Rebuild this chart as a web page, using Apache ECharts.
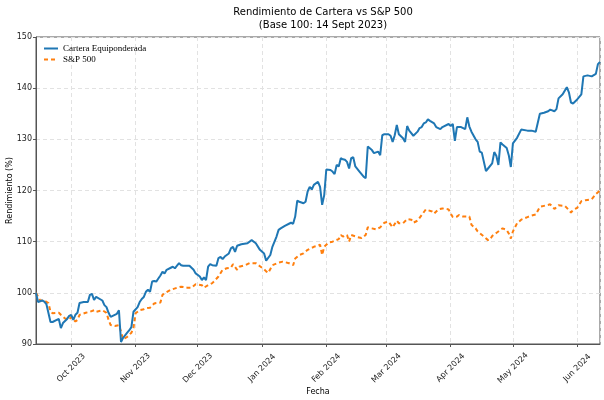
<!DOCTYPE html>
<html><head><meta charset="utf-8">
<script src="https://cdn.jsdelivr.net/npm/echarts@6/dist/echarts.min.js"></script>
<style>html,body{margin:0;padding:0;background:#fff}#c{width:604px;height:400px}</style>
</head><body><div id="c"></div>
<script>
const titleText = 'Rendimiento de Cartera vs S&P 500\n(Base 100: 14 Sept 2023)';
const seriesNames = ['Cartera Equiponderada', 'S&P 500'];
const monthNames = ['Jan','Feb','Mar','Apr','May','Jun','Jul','Aug','Sep','Oct','Nov','Dec'];
const dateMin = '2023-09-14';
const dateMax = '2024-06-12';
const yMin = 90, yMax = 150, yStep = 10;

const carteraDates = ['2023-09-14','2023-09-15','2023-09-17','2023-09-18','2023-09-19','2023-09-21','2023-09-22','2023-09-24','2023-09-25','2023-09-26','2023-09-27','2023-09-29','2023-09-30',
'2023-10-01','2023-10-02','2023-10-03','2023-10-04','2023-10-05','2023-10-07','2023-10-09','2023-10-10','2023-10-11','2023-10-12','2023-10-13','2023-10-16','2023-10-17','2023-10-18','2023-10-19','2023-10-20','2023-10-22','2023-10-23','2023-10-24','2023-10-25','2023-10-26','2023-10-28','2023-10-29','2023-10-30','2023-10-31',
'2023-11-02','2023-11-03','2023-11-04','2023-11-05','2023-11-06','2023-11-07','2023-11-08','2023-11-09','2023-11-10','2023-11-11','2023-11-12','2023-11-13','2023-11-14','2023-11-15','2023-11-16','2023-11-18','2023-11-19','2023-11-20','2023-11-21','2023-11-22','2023-11-23','2023-11-24','2023-11-25','2023-11-27','2023-11-29','2023-11-30',
'2023-12-02','2023-12-03','2023-12-04','2023-12-05','2023-12-06','2023-12-07','2023-12-08','2023-12-10','2023-12-11','2023-12-12','2023-12-13','2023-12-14','2023-12-16','2023-12-17','2023-12-18','2023-12-19','2023-12-20','2023-12-22','2023-12-25','2023-12-27','2023-12-29','2023-12-31',
'2024-01-02','2024-01-03','2024-01-05','2024-01-06','2024-01-08','2024-01-09','2024-01-10','2024-01-12','2024-01-14','2024-01-15','2024-01-16','2024-01-17','2024-01-18','2024-01-19','2024-01-21','2024-01-22','2024-01-23','2024-01-24','2024-01-25','2024-01-26','2024-01-28','2024-01-29','2024-01-30','2024-01-31',
'2024-02-01','2024-02-03','2024-02-04','2024-02-05','2024-02-06','2024-02-07','2024-02-08','2024-02-09','2024-02-10','2024-02-11','2024-02-12','2024-02-13','2024-02-14','2024-02-15','2024-02-17','2024-02-19','2024-02-20','2024-02-21','2024-02-23','2024-02-24','2024-02-26','2024-02-27','2024-02-28','2024-02-29',
'2024-03-02','2024-03-03','2024-03-04','2024-03-05','2024-03-06','2024-03-07','2024-03-09','2024-03-10','2024-03-11','2024-03-12','2024-03-14','2024-03-16','2024-03-17','2024-03-18','2024-03-19','2024-03-20','2024-03-21','2024-03-22','2024-03-24','2024-03-25','2024-03-27','2024-03-28','2024-03-31',
'2024-04-01','2024-04-02','2024-04-03','2024-04-04','2024-04-06','2024-04-08','2024-04-09','2024-04-10','2024-04-11','2024-04-13','2024-04-14','2024-04-15','2024-04-16','2024-04-18','2024-04-19','2024-04-21','2024-04-22','2024-04-23','2024-04-24','2024-04-25','2024-04-26','2024-04-28','2024-04-29','2024-04-30',
'2024-05-01','2024-05-03','2024-05-05','2024-05-08','2024-05-10','2024-05-12','2024-05-14','2024-05-16','2024-05-18','2024-05-19','2024-05-21','2024-05-22','2024-05-23','2024-05-25','2024-05-27','2024-05-28','2024-05-29','2024-05-30',
'2024-06-01','2024-06-03','2024-06-04','2024-06-06','2024-06-08','2024-06-10','2024-06-11','2024-06-12'];
const carteraValues = [100.0,98.2,98.5,98.3,97.8,94.3,94.3,94.7,94.9,93.1,94.1,94.9,95.5,
95.7,94.7,95.7,96.1,98.0,98.2,98.2,99.6,99.8,98.6,99.2,98.5,97.6,97.2,96.1,95.3,95.7,95.9,96.6,90.4,91.2,92.2,92.7,93.3,96.3,
97.2,98.2,98.8,99.2,100.2,100.6,100.2,102.2,102.3,102.2,102.8,103.4,104.1,103.8,104.5,104.9,105.1,104.8,105.3,105.8,105.4,105.3,105.3,105.3,104.5,103.8,
103.2,102.5,103.0,102.5,105.1,105.6,105.4,105.3,106.8,107.0,106.6,107.1,107.7,108.7,109.0,108.0,109.2,109.5,109.7,110.3,109.7,108.4,
107.7,106.3,107.4,109.0,111.0,112.3,112.6,113.1,113.5,113.7,113.5,114.9,118.0,117.8,117.5,117.8,119.8,120.7,120.2,121.1,121.7,120.7,117.2,119.1,
124.1,124.0,123.7,123.2,125.0,124.7,126.3,126.1,126.0,125.6,124.3,126.3,126.5,124.7,123.7,122.7,122.4,128.6,127.9,127.3,127.6,126.9,130.8,131.0,
131.0,130.7,129.5,130.8,132.8,131.0,130.2,129.5,132.6,131.7,130.7,131.5,132.2,132.4,133.1,133.3,133.9,133.6,133.1,132.4,132.0,132.4,133.0,
132.6,133.0,129.7,132.4,132.4,132.0,134.3,132.5,131.5,130.0,129.5,127.6,127.4,123.8,124.3,125.3,127.5,126.8,125.0,129.4,129.0,128.3,126.9,124.6,
129.2,130.3,131.9,131.7,131.7,131.5,135.0,135.2,135.5,135.8,135.5,135.9,138.0,138.8,140.2,139.2,137.2,137.0,
137.8,138.8,142.3,142.5,142.3,142.8,144.7,145.1];

const spDates = ['2023-09-14','2023-09-16','2023-09-18','2023-09-20','2023-09-21','2023-09-22','2023-09-25','2023-09-26','2023-09-28','2023-09-30',
'2023-10-01','2023-10-03','2023-10-04','2023-10-05','2023-10-08','2023-10-10','2023-10-12','2023-10-13','2023-10-15','2023-10-16','2023-10-18','2023-10-19','2023-10-20','2023-10-22','2023-10-24','2023-10-25','2023-10-26','2023-10-28','2023-10-30','2023-10-31',
'2023-11-01','2023-11-03','2023-11-05','2023-11-06','2023-11-08','2023-11-10','2023-11-11','2023-11-13','2023-11-14','2023-11-15','2023-11-18','2023-11-21','2023-11-23','2023-11-26','2023-11-28','2023-11-30',
'2023-12-03','2023-12-04','2023-12-06','2023-12-08','2023-12-09','2023-12-11','2023-12-13','2023-12-15','2023-12-17','2023-12-18','2023-12-20','2023-12-21','2023-12-24','2023-12-26','2023-12-29','2023-12-31',
'2024-01-02','2024-01-03','2024-01-04','2024-01-06','2024-01-09','2024-01-11','2024-01-14','2024-01-16','2024-01-17','2024-01-19','2024-01-21','2024-01-23','2024-01-26','2024-01-28','2024-01-29','2024-01-30','2024-01-31',
'2024-02-02','2024-02-04','2024-02-07','2024-02-08','2024-02-09','2024-02-11','2024-02-12','2024-02-13','2024-02-16','2024-02-18','2024-02-20','2024-02-21','2024-02-23','2024-02-25','2024-02-27','2024-02-29',
'2024-03-02','2024-03-04','2024-03-06','2024-03-07','2024-03-09','2024-03-11','2024-03-13','2024-03-14','2024-03-16','2024-03-18','2024-03-20','2024-03-23','2024-03-24','2024-03-26','2024-03-28','2024-03-31',
'2024-04-01','2024-04-02','2024-04-04','2024-04-05','2024-04-07','2024-04-10','2024-04-11','2024-04-13','2024-04-14','2024-04-17','2024-04-19','2024-04-20','2024-04-21','2024-04-23','2024-04-25','2024-04-26','2024-04-28','2024-04-29','2024-04-30',
'2024-05-01','2024-05-03','2024-05-05','2024-05-08','2024-05-10','2024-05-12','2024-05-14','2024-05-16','2024-05-19','2024-05-21','2024-05-23','2024-05-26','2024-05-27','2024-05-29','2024-05-30',
'2024-06-01','2024-06-03','2024-06-05','2024-06-08','2024-06-10','2024-06-12'];
const spValues = [100.0,98.5,98.5,98.0,96.3,96.0,96.1,95.7,95.0,94.8,
95.3,94.4,94.7,95.7,96.1,96.3,96.6,96.3,96.5,96.6,96.1,94.7,93.7,93.5,93.7,92.4,90.9,91.4,92.2,93.1,
96.0,96.6,96.8,97.0,97.1,97.9,98.0,98.1,99.6,99.9,100.6,101.0,101.2,101.0,101.0,101.7,
101.5,101.0,101.5,101.9,102.3,103.2,104.5,104.8,104.9,105.6,104.5,105.1,105.4,105.8,105.8,105.2,
104.6,104.2,103.9,105.4,105.9,106.1,105.8,105.4,106.7,107.4,107.7,108.4,109.0,109.2,109.4,107.4,109.0,
109.8,110.0,110.5,111.3,111.0,111.3,110.0,111.3,110.9,110.7,111.3,112.8,112.6,112.4,112.8,113.7,
113.9,112.8,114.1,113.6,113.6,114.4,114.3,113.7,114.1,115.2,116.3,115.9,115.5,116.3,116.5,116.3,
115.5,114.8,114.9,115.2,114.9,114.9,113.3,112.6,112.0,111.0,110.3,110.4,111.1,111.7,112.3,112.6,112.3,111.6,110.6,
112.0,113.6,114.3,114.8,115.1,115.3,116.8,117.0,117.3,116.4,117.1,117.0,116.6,115.7,116.2,
116.6,117.9,118.1,118.3,119.3,120.0];

const zip = (d, v) => d.map((x, i) => [x, v[i]]);
const chart = echarts.init(document.getElementById('c'), null, {renderer: 'canvas'});
const baseFont = 'DejaVu Sans';
chart.setOption({
  animation: false,
  backgroundColor: '#ffffff',
  title: {
    text: titleText, left: 318, top: 1, textAlign: 'center',
    textStyle: {fontFamily: baseFont, fontSize: 10, fontWeight: 'normal', color: '#000', lineHeight: 13}
  },
  legend: {
    data: seriesNames, orient: 'vertical', left: 43, top: 44, itemGap: 2, padding: 0,
    itemWidth: 14, itemHeight: 8,
    itemStyle: {opacity: 0},
    textStyle: {fontFamily: 'Liberation Serif', fontSize: 9, color: '#000'}
  },
  grid: {left: 36, right: 4, top: 37, bottom: 56, outerBoundsMode: 'none', containLabel: false,
         show: true, borderColor: '#555', borderWidth: 1, backgroundColor: 'transparent'},
  xAxis: {
    type: 'time', min: dateMin, max: dateMax,
    minInterval: 28 * 86400000, maxInterval: 31 * 86400000,
    name: 'Fecha', nameLocation: 'middle', nameGap: 44, nameMoveOverlap: false,
    nameTextStyle: {fontFamily: baseFont, fontSize: 8, color: '#000'},
    axisLine: {show: true, lineStyle: {color: '#555'}},
    axisTick: {show: true, length: 3, lineStyle: {color: '#555'}},
    axisLabel: {
      rotate: 45, align: 'center', verticalAlign: 'middle',
      fontFamily: baseFont, fontSize: 8, color: '#222', margin: 24,
      showMinLabel: false, showMaxLabel: false,
      formatter: function (val) { const d = new Date(val); return monthNames[d.getMonth()] + ' ' + d.getFullYear(); }
    },
    splitLine: {show: true, lineStyle: {color: '#e2e2e2', type: [4, 3], width: 1}}
  },
  yAxis: {
    type: 'value', min: yMin, max: yMax, interval: yStep,
    name: 'Rendimiento (%)', nameLocation: 'middle', nameGap: 22, nameMoveOverlap: false,
    nameTextStyle: {fontFamily: baseFont, fontSize: 8, color: '#000'},
    axisLine: {show: true, lineStyle: {color: '#555'}},
    axisTick: {show: true, length: 3, lineStyle: {color: '#555'}},
    axisLabel: {fontFamily: baseFont, fontSize: 8, color: '#222', margin: 4},
    splitLine: {show: true, lineStyle: {color: '#e2e2e2', type: [4, 3], width: 1}}
  },
  series: [
    {name: seriesNames[0], type: 'line', data: zip(carteraDates, carteraValues), showSymbol: false, symbol: 'none',
     lineStyle: {color: '#1f77b4', width: 2}, itemStyle: {color: '#1f77b4'}, z: 3},
    {name: seriesNames[1], type: 'line', data: zip(spDates, spValues), showSymbol: false, symbol: 'none',
     lineStyle: {color: '#ff7f0e', width: 2, type: [4, 3]}, itemStyle: {color: '#ff7f0e'}, z: 2}
  ]
});
</script></body></html>
